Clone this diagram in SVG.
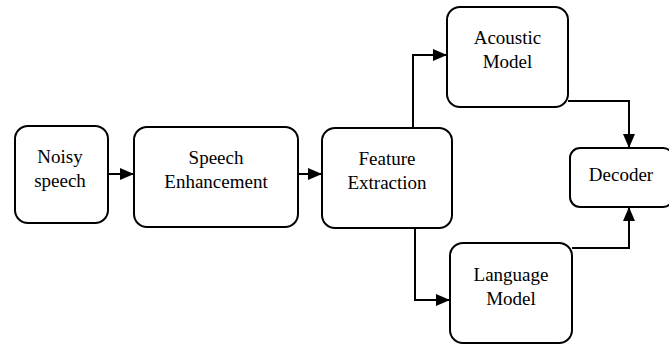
<svg xmlns="http://www.w3.org/2000/svg" width="669" height="345" viewBox="0 0 669 345">
<style>
.box{fill:#fff;stroke:#000;stroke-width:2}
.t{font-family:'Liberation Serif','Times New Roman',serif;font-size:19px;fill:#000;text-anchor:middle}
.c{fill:none;stroke:#000;stroke-width:2}
</style>
<defs>
<marker id="ah" markerWidth="14" markerHeight="12" refX="14" refY="6" orient="auto" markerUnits="userSpaceOnUse">
<path d="M0,0 L14,6 L0,12 Z" fill="#000"/>
</marker>
</defs>
<rect width="669" height="345" fill="#fff"/>
<g id="connectors">
<path class="c" d="M108,174 H134" marker-end="url(#ah)"/>
<path class="c" d="M298,174 H322" marker-end="url(#ah)"/>
<path class="c" d="M413,128 V55 H447" marker-end="url(#ah)"/>
<path class="c" d="M415,228 V300 H450" marker-end="url(#ah)"/>
<path class="c" d="M568,101 H629 V148" marker-end="url(#ah)"/>
<path class="c" d="M572,248 H629 V207" marker-end="url(#ah)"/>
</g>
<g id="noisy">
<rect class="box" x="15" y="126" width="93" height="97" rx="13"/>
<text class="t" x="60" y="163">Noisy</text>
<text class="t" x="60" y="187">speech</text>
</g>
<g id="enhancement">
<rect class="box" x="134" y="127" width="164" height="100" rx="13"/>
<text class="t" x="216" y="164">Speech</text>
<text class="t" x="216" y="188">Enhancement</text>
</g>
<g id="feature">
<rect class="box" x="322" y="128" width="130" height="100" rx="13"/>
<text class="t" x="387" y="165">Feature</text>
<text class="t" x="387" y="189">Extraction</text>
</g>
<g id="acoustic">
<rect class="box" x="447" y="7" width="121" height="100" rx="13"/>
<text class="t" x="507.5" y="44">Acoustic</text>
<text class="t" x="507.5" y="68">Model</text>
</g>
<g id="decoder">
<rect class="box" x="570" y="148" width="103" height="59" rx="10"/>
<text class="t" x="621" y="181">Decoder</text>
</g>
<g id="language">
<rect class="box" x="450" y="243" width="122" height="100" rx="13"/>
<text class="t" x="511" y="281">Language</text>
<text class="t" x="511" y="305">Model</text>
</g>
</svg>
